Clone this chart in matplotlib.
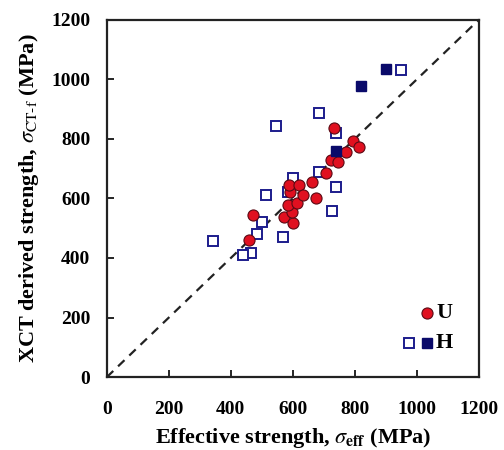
import matplotlib.pyplot as plt

plt.rcParams['font.family'] = 'Liberation Serif'
plt.rcParams['mathtext.fontset'] = 'stix'

# U specimens (circles)
u_eff = [458, 471, 572, 600, 598, 585, 612, 590, 587, 620, 633, 661, 676,
         707, 722, 747, 770, 795, 812, 734]
u_ct = [460, 546, 539, 519, 555, 577, 585, 622, 646, 646, 612, 655, 601,
        686, 728, 722, 755, 793, 773, 836]

# H specimens, open squares
h_open_eff = [949, 685, 546, 738, 686, 599, 740, 515, 585, 726, 499, 486,
              567, 341, 465, 438]
h_open_ct = [1031, 887, 844, 821, 688, 668, 638, 610, 621, 558, 522, 481,
             472, 458, 418, 410]

# H specimens, filled squares
h_fill_eff = [899, 819, 738]
h_fill_ct = [1034, 979, 760]

red = '#e01020'
red_edge = '#5a0a14'
navy = '#0a0a6a'

fig = plt.figure(figsize=(5.04, 4.5), dpi=100)
ax = fig.add_axes([0.212, 0.162, 0.738, 0.794])

ax.plot([0, 1200], [0, 1200], ls=(0, (4, 3)), color='#222222', lw=1.6, zorder=1)

ax.plot(h_open_eff, h_open_ct, 's', ms=6.5, mfc='white', mec='#1c1c8c', mew=1.4,
        ls='none', zorder=2)
ax.plot(u_eff, u_ct, 'o', ms=8, mfc=red, mec=red_edge, mew=0.8, ls='none', zorder=3)
ax.plot(h_fill_eff, h_fill_ct, 's', ms=7, mfc=navy, mec=navy, ls='none', zorder=4)

# legend
ax.plot([0.860], [0.179], 'o', ms=8, mfc=red, mec=red_edge, mew=0.8,
        transform=ax.transAxes)
ax.plot([0.812], [0.095], 's', ms=6.5, mfc='white', mec='#1c1c8c', mew=1.4,
        transform=ax.transAxes)
ax.plot([0.860], [0.095], 's', ms=7, mfc=navy, mec=navy, transform=ax.transAxes)
ax.text(0.885, 0.179, 'U', transform=ax.transAxes, fontsize=16, fontweight='bold',
        va='center', ha='left')
ax.text(0.885, 0.095, 'H', transform=ax.transAxes, fontsize=16, fontweight='bold',
        va='center', ha='left')

ax.set_xlim(0, 1200)
ax.set_ylim(0, 1200)
ticks = [0, 200, 400, 600, 800, 1000, 1200]
ax.set_xticks(ticks)
ax.set_yticks(ticks)
ax.set_xticklabels([str(t) for t in ticks], fontsize=14, fontweight='bold')
ax.set_yticklabels([str(t) for t in ticks], fontsize=14, fontweight='bold')
ax.tick_params(direction='in', length=5, width=1.2)
ax.tick_params(axis='x', pad=17)
ax.tick_params(axis='y', pad=12)
for s in ax.spines.values():
    s.set_linewidth(1.6)
    s.set_color('#222222')

ax.set_xlabel(r'Effective strength, $\sigma_{\mathbf{eff}}$ (MPa)', fontsize=16,
              fontweight='bold', labelpad=6)
ax.set_ylabel(r'XCT derived strength, $\sigma_{\mathrm{CT}\text{-}\mathrm{f}}$ (MPa)',
              fontsize=16, fontweight='bold', labelpad=7)

plt.savefig('out.png', dpi=100)
